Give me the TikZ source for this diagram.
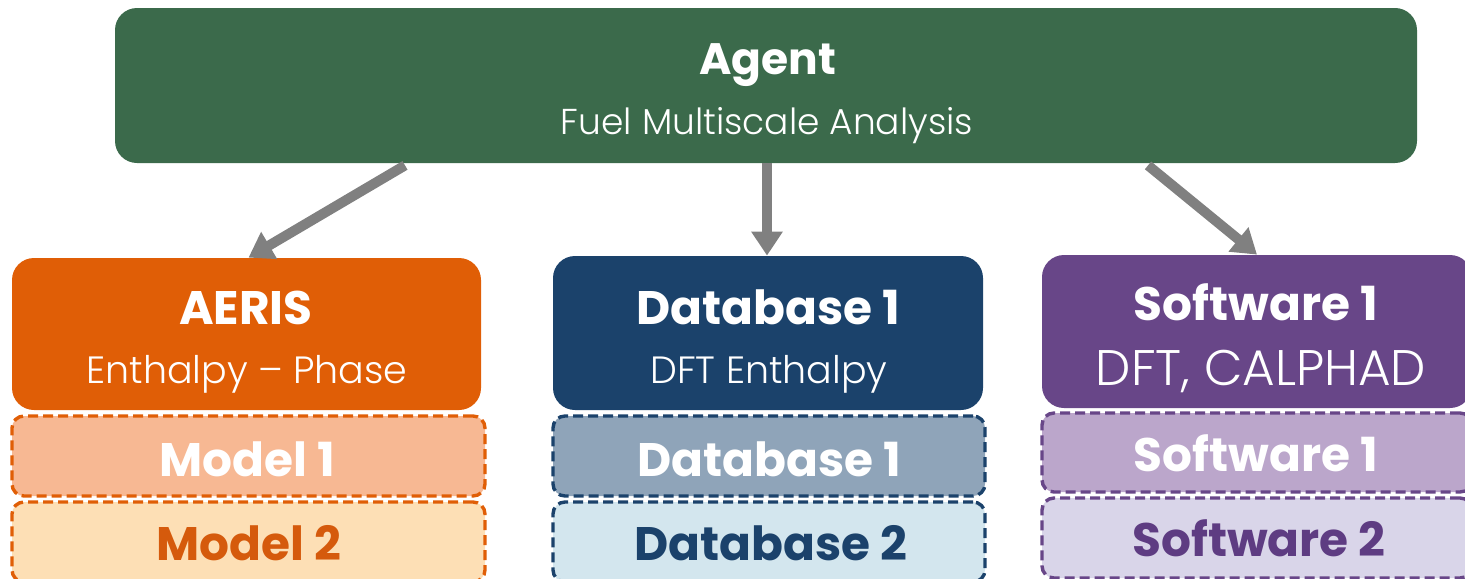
\documentclass[tikz,border=0pt]{standalone}
\usepackage{fontspec}
\setmainfont{Poppins}
\newfontfamily\thinfont{Poppins Light}
\usetikzlibrary{arrows.meta,calc}

\definecolor{agentgreen}{HTML}{3B6A4B}
\definecolor{aerisorange}{HTML}{E05E06}
\definecolor{modelpeach}{HTML}{F7B893}
\definecolor{modelcream}{HTML}{FDDFB5}
\definecolor{modeltext}{HTML}{D55A0C}
\definecolor{dbnavy}{HTML}{1B426B}
\definecolor{dbgrey}{HTML}{8FA4B9}
\definecolor{dbpale}{HTML}{D3E6EE}
\definecolor{swpurple}{HTML}{684688}
\definecolor{swlilac}{HTML}{BBA6CB}
\definecolor{swpale}{HTML}{D9D5E9}
\definecolor{swtext}{HTML}{5E3C82}
\definecolor{arrowgray}{HTML}{808080}

\begin{document}
\begin{tikzpicture}[x=0.5pt,y=-0.5pt,
    box/.style={rectangle,rounded corners=11pt,inner sep=0pt},
    subbox/.style={rectangle,rounded corners=6pt,line width=1.7pt,dash pattern=on 5pt off 2.5pt,inner sep=0pt},
    title/.style={anchor=base,text=white,font=\bfseries\fontsize{23.5}{28}\selectfont},
    subtitle/.style={anchor=base,text=white,font=\thinfont\fontsize{19}{23}\selectfont},
    arr/.style={draw=arrowgray,line width=5pt,-{Triangle[width=15pt,length=12pt]}}]
    \useasboundingbox (0,0) rectangle (1465,578);
    \clip (0,0) rectangle (1465,578);
    % top box
    \node[box,fill=agentgreen,minimum width=651pt,minimum height=77.5pt] (agent) at (766,85.5) {};
    \node[title,font=\bfseries\fontsize{22}{26}\selectfont] (agentT) at (768,74) {Agent};
    \node[subtitle,font=\thinfont\fontsize{18}{22}\selectfont] (agentS) at (767,134) {Fuel Multiscale Analysis};
    % three columns
    \node[box,fill=aerisorange,minimum width=234.5pt,minimum height=76pt] (aeris) at (246.5,334) {};
    \node[box,fill=dbnavy,minimum width=215pt,minimum height=77pt] (db) at (768,333) {};
    \node[box,fill=swpurple,minimum width=215pt,minimum height=76.5pt] (sw) at (1257,331.5) {};
    \node[title] (aerisT) at (246,324) {AERIS};
    \node[subtitle] (aerisS) at (247,383) {Enthalpy – Phase};
    \node[title] (dbT) at (768,324) {Database 1};
    \node[subtitle] (dbS) at (769,383) {DFT Enthalpy};
    \node[title] (swT) at (1256,320) {Software 1};
    \node[subtitle,font=\thinfont\fontsize{25}{29}\selectfont] (swS) at (1261,385) {DFT, CALPHAD};
    % dashed sub boxes
    \node[subbox,draw=aerisorange,fill=modelpeach,minimum width=236.5pt,minimum height=40pt] (m1) at (248.5,456) {};
    \node[subbox,draw=aerisorange,fill=modelcream,minimum width=236.5pt,minimum height=40pt] (m2) at (248.5,542) {};
    \node[subbox,draw=dbnavy,fill=dbgrey,minimum width=216pt,minimum height=40pt] (d1) at (769,456) {};
    \node[subbox,draw=dbnavy,fill=dbpale,minimum width=216pt,minimum height=40pt] (d2) at (769,542) {};
    \node[subbox,draw=swpurple,fill=swlilac,minimum width=215pt,minimum height=39.5pt] (s1) at (1257,452.5) {};
    \node[subbox,draw=swpurple,fill=swpale,minimum width=215pt,minimum height=40pt] (s2) at (1257,538) {};
    \node[title] (m1T) at (247,476) {Model 1};
    \node[title,text=modeltext] (m2T) at (249,560) {Model 2};
    \node[title] (d1T) at (769,476) {Database 1};
    \node[title,text=dbnavy] (d2T) at (771,560) {Database 2};
    \node[title] (s1T) at (1256,471) {Software 1};
    \node[title,text=swtext] (s2T) at (1259,556) {Software 2};
    % arrows
    \draw[arr] ($(agent.south)+(-361,2)$) -- ($(aeris.north)+(2,0)$);
    \draw[arr] ($(agent.south)+(1,0)$) -- ($(db.north)+(-1,0)$);
    \draw[arr] ($(agent.south)+(382,2)$) -- ($(sw.north)+(0,0)$);
\end{tikzpicture}
\end{document}
